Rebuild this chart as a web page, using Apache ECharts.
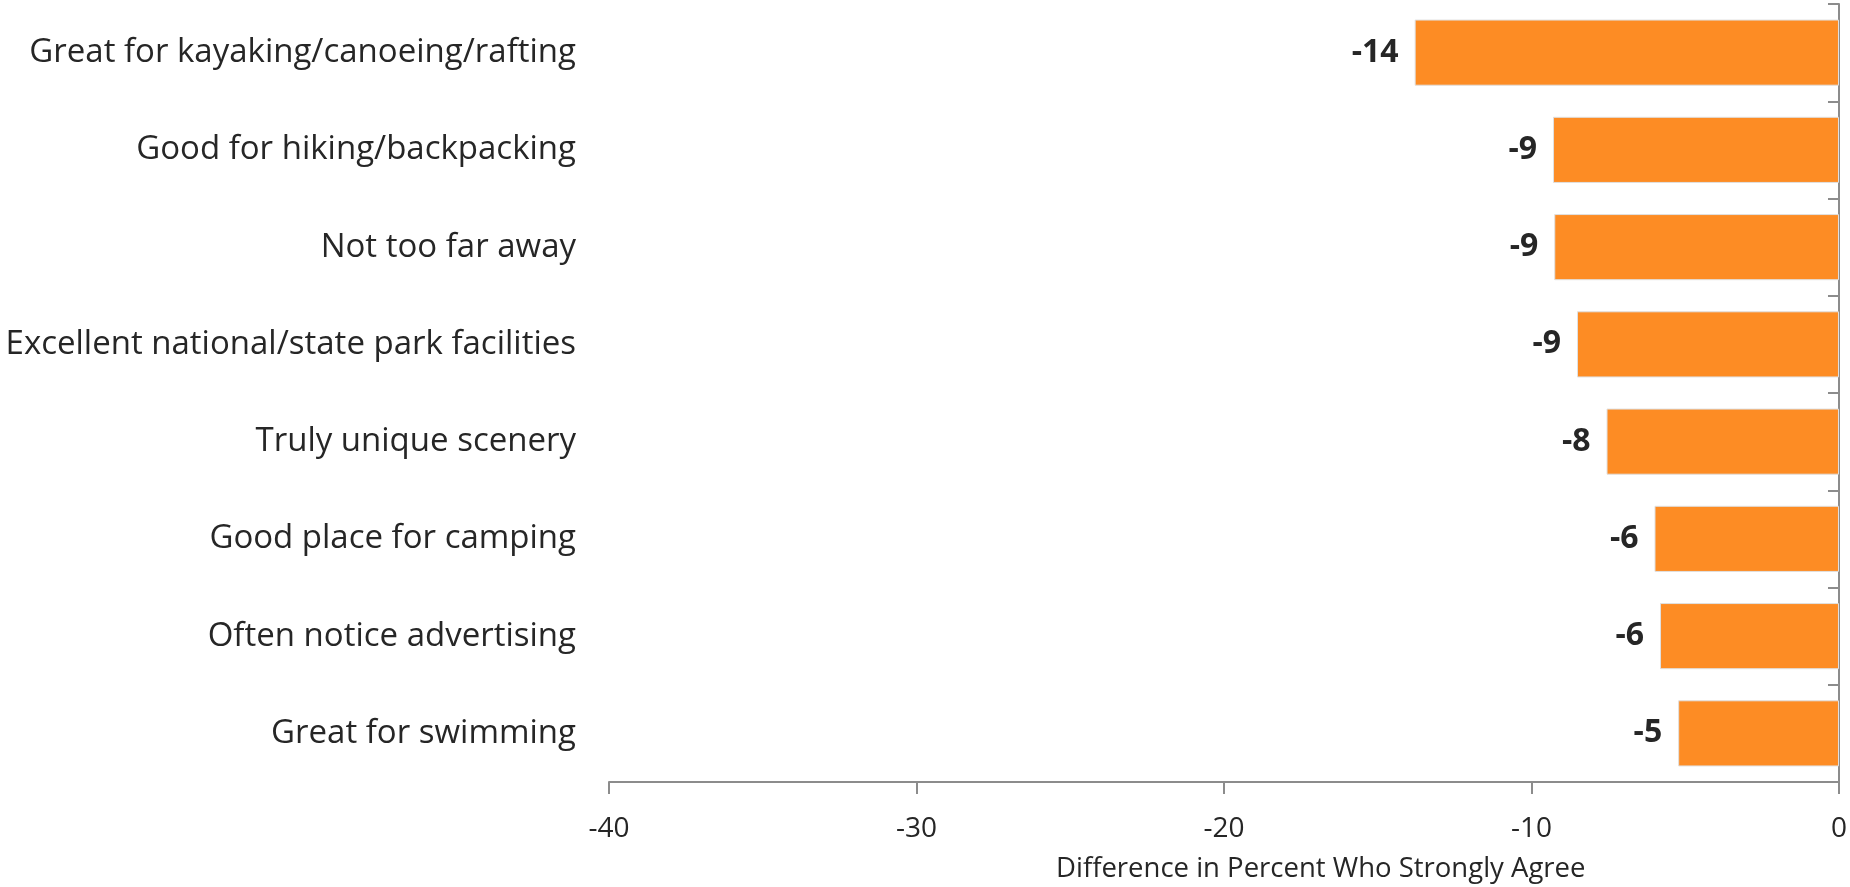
<!DOCTYPE html>
<html>
<head>
<meta charset="utf-8">
<script src="https://cdn.jsdelivr.net/npm/echarts@6/dist/echarts.min.js"></script>
<style>
html,body{margin:0;padding:0;background:#fff;overflow:hidden;}
#chart{width:1850px;height:887px;}
</style>
</head>
<body>
<div id="chart"></div>
<script>
const categories = [
  "Great for kayaking/canoeing/rafting",
  "Good for hiking/backpacking",
  "Not too far away",
  "Excellent national/state park facilities",
  "Truly unique scenery",
  "Good place for camping",
  "Often notice advertising",
  "Great for swimming"
];
const values = [-13.8, -9.3, -9.26, -8.52, -7.56, -6.0, -5.82, -5.23];
const valueLabels = ["-14", "-9", "-9", "-9", "-8", "-6", "-6", "-5"];
const xTicks = [-40, -30, -20, -10, 0];
const axisTitle = "Difference in Percent Who Strongly Agree";

const FONT = "Open Sans";
const chart = echarts.init(document.getElementById('chart'));
chart.setOption({
  animation: false,
  backgroundColor: '#ffffff',
  textStyle: { fontFamily: FONT, color: '#262626' },
  title: {
    text: axisTitle,
    left: 1056,
    top: 855,
    padding: 0,
    textStyle: { fontFamily: FONT, fontSize: 27.5, fontWeight: 'normal', color: '#262626' }
  },
  grid: { left: 609, right: 6, top: 4, bottom: 105, containLabel: false },
  xAxis: {
    type: 'value',
    min: xTicks[0],
    max: xTicks[xTicks.length - 1],
    interval: 10,
    splitLine: { show: false },
    axisLine: { show: true, onZero: false, lineStyle: { color: '#8c8c8c', width: 2 } },
    axisTick: { show: true, length: 12, lineStyle: { color: '#8c8c8c', width: 2 } },
    axisLabel: { fontFamily: FONT, fontSize: 28, color: '#262626', margin: 33 }
  },
  yAxis: [
    {
      type: 'category',
      data: categories,
      inverse: true,
      position: 'left',
      axisLine: { show: false, onZero: false },
      axisTick: { show: false },
      axisLabel: { fontFamily: FONT, fontSize: 33, color: '#262626', margin: 33 }
    },
    {
      type: 'category',
      data: categories,
      inverse: true,
      position: 'right',
      axisLine: { show: true, onZero: false, lineStyle: { color: '#8c8c8c', width: 2 } },
      axisTick: { show: true, inside: true, length: 11, lineStyle: { color: '#8c8c8c', width: 2 } },
      axisLabel: { show: false }
    }
  ],
  series: [{
    type: 'bar',
    data: values,
    yAxisIndex: 0,
    barCategoryGap: '32%',
    itemStyle: { color: '#FD8C24', borderColor: '#e0e0e0', borderWidth: 1 },
    label: {
      show: true,
      position: 'left',
      distance: 16,
      fontFamily: FONT,
      fontSize: 32,
      fontWeight: 'bold',
      color: '#262626',
      formatter: p => valueLabels[p.dataIndex]
    }
  }]
});
</script>
</body>
</html>
